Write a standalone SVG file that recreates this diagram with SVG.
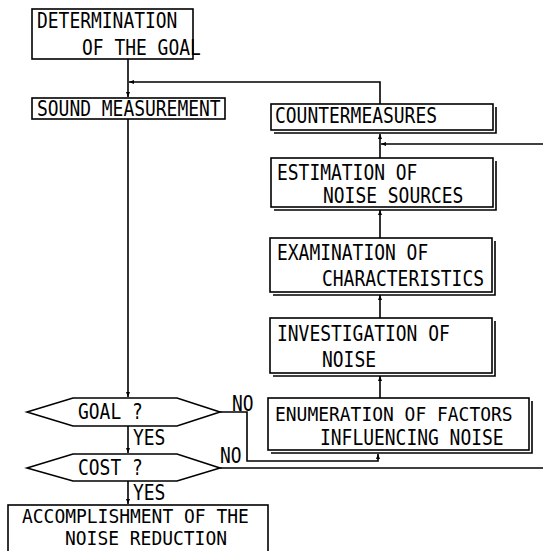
<svg xmlns="http://www.w3.org/2000/svg" width="543" height="551" viewBox="0 0 543 551">
<style>
text{font-family:"DejaVu Sans Mono","Liberation Mono",monospace;font-size:21px;fill:#000}
.sm{font-size:19px}
.md{font-size:19.5px}
.b{fill:#fff;stroke:#000;stroke-width:1.6}
.s{fill:none;stroke:#000;stroke-width:1.6}
.c{fill:none;stroke:#000;stroke-width:1.6}
</style>
<defs>
<marker id="ah" viewBox="0 0 10 10" refX="10" refY="5" markerWidth="5" markerHeight="5" orient="auto" markerUnits="userSpaceOnUse">
<path d="M0,1 L10,5 L0,9 Z" fill="#000"/>
</marker>
</defs>
<rect width="543" height="551" fill="#fff"/>
<g id="connectors">
<path class="c" d="M128,59 V97" marker-end="url(#ah)"/>
<path class="c" d="M380,104 V82 H129" marker-end="url(#ah)"/>
<path class="c" d="M128,119 V397" marker-end="url(#ah)"/>
<path class="c" d="M128,426 V453" marker-end="url(#ah)"/>
<path class="c" d="M128,481 V504" marker-end="url(#ah)"/>
<path class="c" d="M380,158 V134" marker-end="url(#ah)"/>
<path class="c" d="M543,144 H381" marker-end="url(#ah)"/>
<path class="c" d="M380,238 V210" marker-end="url(#ah)"/>
<path class="c" d="M380,318 V295" marker-end="url(#ah)"/>
<path class="c" d="M380,398 V376" marker-end="url(#ah)"/>
<path class="c" d="M220,412 H247 V461 H378 V454" marker-end="url(#ah)"/>
<path class="c" d="M220,468 H543"/>
<text x="232" y="411" textLength="21.6" lengthAdjust="spacingAndGlyphs">NO</text>
<text x="220" y="463" textLength="21.6" lengthAdjust="spacingAndGlyphs">NO</text>
<text x="133" y="445" textLength="32.4" lengthAdjust="spacingAndGlyphs">YES</text>
<text x="133" y="500" textLength="32.4" lengthAdjust="spacingAndGlyphs">YES</text>
</g>
<g id="n1">
<rect class="b" x="32" y="9" width="161" height="50"/>
<text x="37" y="28" textLength="140.4" lengthAdjust="spacingAndGlyphs">DETERMINATION</text>
<text x="82" y="55" textLength="118.8" lengthAdjust="spacingAndGlyphs">OF THE GOAL</text>
</g>
<g id="n2">
<rect class="b" x="32" y="98" width="193" height="21"/>
<text x="37" y="116" textLength="183.6" lengthAdjust="spacingAndGlyphs">SOUND MEASUREMENT</text>
</g>
<g id="n3">
<path class="s" d="M274,133 H496 V107"/>
<rect class="b" x="271" y="104" width="222" height="26"/>
<text x="275" y="123" textLength="162" lengthAdjust="spacingAndGlyphs">COUNTERMEASURES</text>
</g>
<g id="n4">
<path class="s" d="M274,210 H496 V161"/>
<rect class="b" x="271" y="158" width="222" height="49"/>
<text x="277" y="180" textLength="140.4" lengthAdjust="spacingAndGlyphs">ESTIMATION OF</text>
<text x="323" y="203" textLength="140.4" lengthAdjust="spacingAndGlyphs">NOISE SOURCES</text>
</g>
<g id="n5">
<path class="s" d="M273,295 H495 V241"/>
<rect class="b" x="270" y="238" width="222" height="54"/>
<text x="277" y="260" textLength="151.2" lengthAdjust="spacingAndGlyphs">EXAMINATION OF</text>
<text x="322" y="286" textLength="162" lengthAdjust="spacingAndGlyphs">CHARACTERISTICS</text>
</g>
<g id="n6">
<path class="s" d="M273,376 H495 V321"/>
<rect class="b" x="270" y="318" width="222" height="55"/>
<text x="277" y="341" textLength="172.8" lengthAdjust="spacingAndGlyphs">INVESTIGATION OF</text>
<text x="322" y="367" textLength="54" lengthAdjust="spacingAndGlyphs">NOISE</text>
</g>
<g id="n7">
<path class="s" d="M271,453 H532 V401"/>
<rect class="b" x="268" y="398" width="261" height="52"/>
<text class="md" x="275" y="421" textLength="237.6" lengthAdjust="spacingAndGlyphs">ENUMERATION OF FACTORS</text>
<text x="320" y="445" textLength="183.6" lengthAdjust="spacingAndGlyphs">INFLUENCING NOISE</text>
</g>
<g id="d1">
<polygon class="b" points="27,412 73,398 177,398 220,412 177,426 73,426"/>
<text x="78" y="419" textLength="64.8" lengthAdjust="spacingAndGlyphs">GOAL ?</text>
</g>
<g id="d2">
<polygon class="b" points="27,468 73,454 177,454 220,468 177,481 73,481"/>
<text x="78" y="475" textLength="64.8" lengthAdjust="spacingAndGlyphs">COST ?</text>
</g>
<g id="n8">
<rect class="b" x="8" y="505" width="260" height="60"/>
<text class="sm" x="22" y="523" textLength="226.8" lengthAdjust="spacingAndGlyphs">ACCOMPLISHMENT OF THE</text>
<text class="sm" x="65" y="545" textLength="162" lengthAdjust="spacingAndGlyphs">NOISE REDUCTION</text>
</g>
</svg>
